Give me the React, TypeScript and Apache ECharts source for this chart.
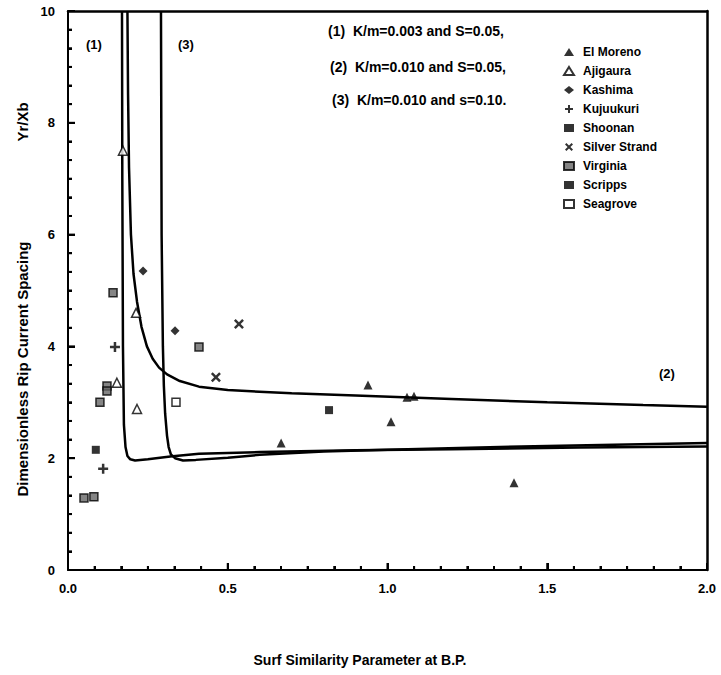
import React, { useEffect, useRef } from "react";
import * as echarts from "echarts";

// Theoretical curves [surf similarity, Yr/Xb]
const curve1: number[][] = [
  [0.169, 10], [0.17, 7], [0.172, 4], [0.175, 2.6], [0.18, 2.2], [0.186, 2.04], [0.195, 1.98],
  [0.21, 1.96], [0.25, 1.98], [0.32, 2.03], [0.41, 2.08], [0.6, 2.11], [0.9, 2.14], [1.2, 2.16],
  [1.6, 2.19], [2.0, 2.21],
];
const curve2: number[][] = [
  [0.186, 10], [0.188, 8.5], [0.191, 7.2], [0.197, 6.0], [0.205, 5.3], [0.216, 4.8], [0.23, 4.35],
  [0.247, 4.0], [0.265, 3.78], [0.285, 3.62], [0.31, 3.5], [0.35, 3.38], [0.41, 3.28], [0.5, 3.22],
  [0.7, 3.16], [0.9, 3.12], [1.2, 3.06], [1.5, 3.0], [1.8, 2.95], [2.0, 2.92],
];
const curve3: number[][] = [
  [0.291, 10], [0.293, 6], [0.297, 4], [0.3, 3.3], [0.304, 2.8], [0.31, 2.4], [0.315, 2.2],
  [0.322, 2.07], [0.335, 2.0], [0.36, 1.96], [0.4, 1.97], [0.5, 2.01], [0.6, 2.06], [0.8, 2.12],
  [1.0, 2.15], [1.5, 2.22], [2.0, 2.27],
];

// Field data
const elMoreno: number[][] = [[0.667, 2.27], [0.939, 3.31], [1.061, 3.09], [1.083, 3.11], [1.011, 2.65], [1.396, 1.56]];
const ajigaura: number[][] = [[0.172, 7.5], [0.213, 4.6], [0.153, 3.35], [0.216, 2.88]];
const kashima: number[][] = [[0.235, 5.35], [0.335, 4.28]];
const kujuukuri: number[][] = [[0.147, 3.99], [0.11, 1.81]];
const shoonan: number[][] = [[0.817, 2.86]];
const silverStrand: number[][] = [[0.535, 4.4], [0.463, 3.45]];
const virginia: number[][] = [[0.141, 4.96], [0.41, 3.99], [0.122, 3.29], [0.122, 3.2], [0.1, 3.0], [0.05, 1.29], [0.081, 1.31]];
const scripps: number[][] = [[0.087, 2.15]];
const seagrove: number[][] = [[0.338, 3.0]];

const siteNames = ["El Moreno", "Ajigaura", "Kashima", "Kujuukuri", "Shoonan", "Silver Strand", "Virginia", "Scripps", "Seagrove"];
const xTickLabels = ["0.0", "0.5", "1.0", "1.5", "2.0"];
const yTickLabels = ["0", "2", "4", "6", "8", "10"];
const curveNotes = ["(1)  K/m=0.003 and S=0.05,", "(2)  K/m=0.010 and S=0.05,", "(3)  K/m=0.010 and s=0.10."];

// Axis tick marks: x every 1/12 (major every 0.5), y every 1/3 (major every 2)
const xTickMarks: number[][] = Array.from({ length: 25 }, (_, i) => [i / 12, 0, i % 6 === 0 ? 1 : 0]);
const yTickMarks: number[][] = Array.from({ length: 31 }, (_, i) => [0, i / 3, i % 6 === 0 ? 1 : 0]);

const FONT = "'Liberation Sans', Arial, sans-serif";
const PLUS = "path://M3,0H5V3H8V5H5V8H3V5H0V3H3Z";
const CROSS = "path://M0,1.4L1.4,0L4,2.6L6.6,0L8,1.4L5.4,4L8,6.6L6.6,8L4,5.4L1.4,8L0,6.6L2.6,4Z";

export default function App() {
  const ref = useRef<HTMLDivElement>(null);
  useEffect(() => {
    if (!ref.current) return;
    const chart = echarts.init(ref.current, null, { renderer: "svg" });
    const lineSeries = (name: string, data: number[][]) => ({
      name,
      type: "line",
      data,
      showSymbol: false,
      lineStyle: { color: "#000", width: 2.5 },
      z: 2,
      silent: true,
    });
    const sc = (name: string, data: number[][], symbol: string, size: number, style: any) => ({
      name,
      type: "scatter",
      data,
      symbol,
      symbolSize: size,
      itemStyle: style,
      z: 3,
    });
    const tickSeries = (name: string, data: number[][], vertical: boolean) => ({
      name,
      type: "custom",
      data,
      silent: true,
      clip: false,
      z: 4,
      renderItem: (_p: any, api: any) => {
        const pt = api.coord([api.value(0), api.value(1)]);
        const len = api.value(2) ? 7 : 4;
        return {
          type: "line",
          shape: vertical
            ? { x1: pt[0], y1: pt[1], x2: pt[0], y2: pt[1] - len }
            : { x1: pt[0], y1: pt[1], x2: pt[0] + len, y2: pt[1] },
          style: { stroke: "#000", lineWidth: 2 },
        };
      },
    });
    const filled = { color: "#000" };
    const tickCommon = {
      axisLine: { show: true, onZero: false, lineStyle: { color: "#000", width: 2 } },
      axisTick: { show: true, inside: true, length: 7, lineStyle: { color: "#000", width: 2 } },
      minorTick: { show: true, splitNumber: 6, length: 4, lineStyle: { color: "#000", width: 2 } },
      splitLine: { show: false },
      minorSplitLine: { show: false },
    };
    const plainBorder = {
      axisLine: { show: true, onZero: false, lineStyle: { color: "#000", width: 2.5 } },
      axisTick: { show: false },
      axisLabel: { show: false },
      splitLine: { show: false },
    };
    const labelStyle = { color: "#000", fontFamily: FONT, fontWeight: "bold", fontSize: 13 };
    chart.setOption({
      animation: false,
      backgroundColor: "#fff",
      grid: { left: 68, top: 11, right: 14, bottom: 105 },
      xAxis: [
        {
          type: "value",
          min: 0,
          max: 2,
          interval: 0.5,
          position: "bottom",
          ...tickCommon,
          axisLabel: { ...labelStyle, margin: 12, formatter: (v: number) => xTickLabels[Math.round(v / 0.5)] ?? "" },
        },
        { type: "value", min: 0, max: 2, interval: 0.5, position: "top", ...plainBorder },
      ],
      yAxis: [
        {
          type: "value",
          min: 0,
          max: 10,
          interval: 2,
          position: "left",
          ...tickCommon,
          axisLabel: { ...labelStyle, margin: 13, formatter: (v: number) => yTickLabels[Math.round(v / 2)] ?? "" },
        },
        { type: "value", min: 0, max: 10, interval: 2, position: "right", ...plainBorder },
      ],
      legend: {
        orient: "vertical",
        left: 558,
        top: 40,
        itemWidth: 10,
        itemHeight: 8,
        itemGap: 5,
        selectedMode: false,
        textStyle: { color: "#000", fontFamily: FONT, fontWeight: "bold", fontSize: 12, lineHeight: 14, padding: [0, 0, 0, 4] },
        data: siteNames,
      },
      graphic: [
        ...curveNotes.map((t, i) => ({
          type: "text",
          left: 328 + i * 2,
          top: [24, 60, 93][i],
          style: { text: t, fill: "#000", font: `bold 14px ${FONT}` },
        })),
        { type: "text", left: 86, top: 38, style: { text: "(1)", fill: "#000", font: `bold 13px ${FONT}` } },
        { type: "text", left: 178, top: 38, style: { text: "(3)", fill: "#000", font: `bold 13px ${FONT}` } },
        { type: "text", left: 659, top: 367, style: { text: "(2)", fill: "#000", font: `bold 13px ${FONT}` } },
        {
          type: "text",
          x: 22,
          y: 369,
          rotation: Math.PI / 2,
          style: {
            text: "Dimensionless Rip Current Spacing",
            fill: "#000",
            font: `bold 15px ${FONT}`,
            align: "center",
            verticalAlign: "middle",
          },
        },
        {
          type: "text",
          x: 22,
          y: 122,
          rotation: Math.PI / 2,
          style: { text: "Yr/Xb", fill: "#000", font: `bold 15px ${FONT}`, align: "center", verticalAlign: "middle" },
        },
        {
          type: "text",
          x: 360,
          y: 660,
          style: {
            text: "Surf Similarity Parameter at B.P.",
            fill: "#000",
            font: `bold 14px ${FONT}`,
            align: "center",
            verticalAlign: "middle",
          },
        },
      ],
      series: [
        tickSeries("xticks", xTickMarks, true),
        tickSeries("yticks", yTickMarks, false),
        lineSeries("curve1", curve1),
        lineSeries("curve2", curve2),
        lineSeries("curve3", curve3),
        sc("El Moreno", elMoreno, "triangle", 9, filled),
        sc("Ajigaura", ajigaura, "triangle", 9, { color: "#fff", borderColor: "#000", borderWidth: 1.5 }),
        sc("Kashima", kashima, "diamond", 9, filled),
        sc("Kujuukuri", kujuukuri, PLUS, 10, filled),
        sc("Shoonan", shoonan, "rect", 8, filled),
        sc("Silver Strand", silverStrand, CROSS, 10, filled),
        sc("Virginia", virginia, "rect", 8, { color: "#666", borderColor: "#000", borderWidth: 1.5 }),
        sc("Scripps", scripps, "rect", 8, filled),
        sc("Seagrove", seagrove, "rect", 8, { color: "#fff", borderColor: "#000", borderWidth: 1.5 }),
      ],
    });
    return () => chart.dispose();
  }, []);
  return <div ref={ref} style={{ width: 721, height: 675, position: "absolute", left: 0, top: 0 }} />;
}
